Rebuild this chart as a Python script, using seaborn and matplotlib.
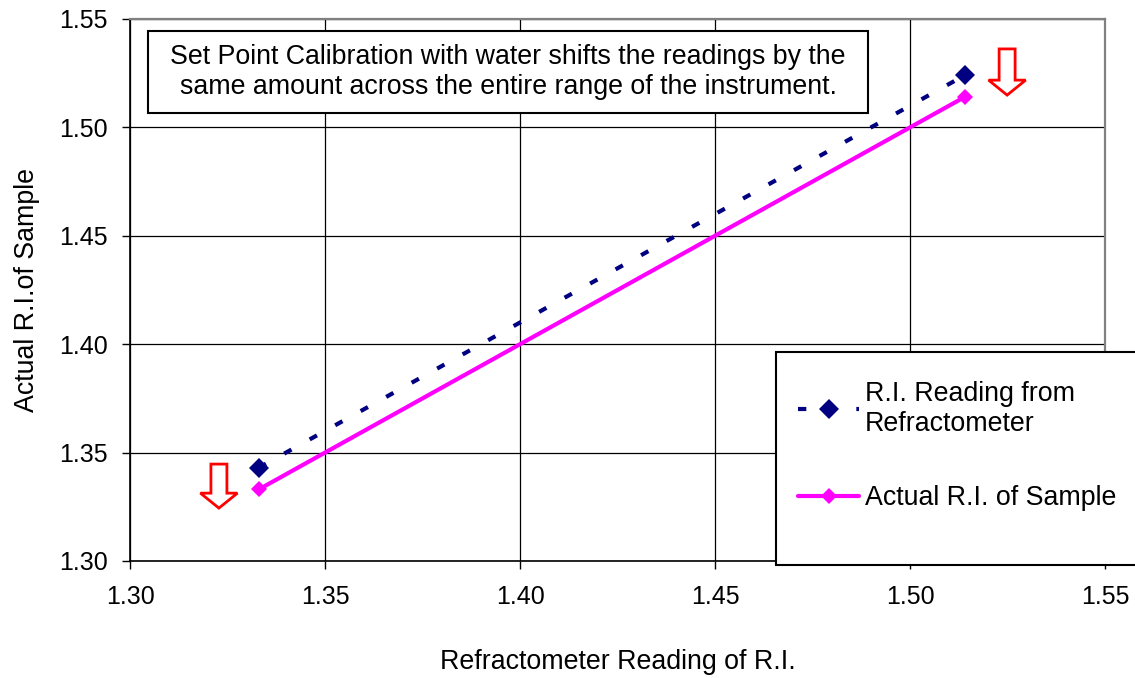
import numpy as np
import pandas as pd
import matplotlib
matplotlib.use("Agg")
import matplotlib.pyplot as plt
import seaborn as sns
from matplotlib.patches import FancyArrow, Rectangle

# ---- data ----
ri_reading_x = [1.333, 1.514]
ri_reading_y = [1.343, 1.524]
actual_x = [1.333, 1.514]
actual_y = [1.333, 1.514]
series_names = ["R.I. Reading from\nRefractometer", "Actual R.I. of Sample"]
x_ticks = [1.30, 1.35, 1.40, 1.45, 1.50, 1.55]
y_ticks = [1.30, 1.35, 1.40, 1.45, 1.50, 1.55]
note = ("Set Point Calibration with water shifts the readings by the\n"
        "same amount across the entire range of the instrument.")
x_label = "Refractometer Reading of R.I."
y_label = "Actual R.I.of Sample"

sns.set_theme(style="white")
plt.rcParams["font.family"] = ["Liberation Sans", "DejaVu Sans"]

FS = 19.3

fig = plt.figure(figsize=(11.35, 6.78), dpi=100)
ax = fig.add_axes([130/1135, 1-561/678, (1105-130)/1135, (561-19)/678])

df1 = pd.DataFrame({"x": ri_reading_x, "y": ri_reading_y})
df2 = pd.DataFrame({"x": actual_x, "y": actual_y})

sns.lineplot(data=df1, x="x", y="y", ax=ax, color="#000080", linewidth=3,
             marker="D", markersize=10, markeredgewidth=0, label=series_names[0],
             zorder=4)
ax.lines[-1].set_dashes([2.0, 5.0])
ax.lines[-1].set_dash_capstyle("butt")
sns.lineplot(data=df2, x="x", y="y", ax=ax, color="#FF00FF", linewidth=3,
             marker="D", markersize=8, markeredgewidth=0, label=series_names[1],
             zorder=4)

ax.set_xlim(x_ticks[0], x_ticks[-1])
ax.set_ylim(y_ticks[0], y_ticks[-1])
ax.set_xticks(x_ticks)
ax.set_yticks(y_ticks)
ax.set_xticklabels([f"{v:.2f}" for v in x_ticks])
ax.set_yticklabels([f"{v:.2f}" for v in y_ticks])
ax.grid(True, color="black", linewidth=0.9)
ax.set_axisbelow(True)
ax.tick_params(axis="both", direction="out", length=6, width=1, color="black",
               labelsize=18, labelcolor="black", bottom=True, left=True)
ax.tick_params(axis="x", pad=11)
ax.tick_params(axis="y", pad=10)
for s in ["left", "bottom"]:
    ax.spines[s].set_color("black")
    ax.spines[s].set_linewidth(1.2)
for s in ["top", "right"]:
    ax.spines[s].set_color("#808080")
    ax.spines[s].set_linewidth(1.6)
ax.set_xlabel(x_label, fontsize=FS, labelpad=29, color="black")
ax.set_ylabel(y_label, fontsize=FS, labelpad=14, color="black")

# annotation box
box = Rectangle((148/1135, 1-113/678), (868-148)/1135, (113-31)/678,
                transform=fig.transFigure, facecolor="white",
                edgecolor="black", linewidth=1.5, zorder=5)
fig.patches.append(box)
fig.text((148 + 868) / 2 / 1135, 1 - 72 / 678, note, ha="center", va="center",
         fontsize=FS, color="black", linespacing=1.2, zorder=6)

# hollow red arrows
for cx, top, tip in [(1.3228, 1.3447, 1.3244), (1.5249, 1.5362, 1.5149)]:
    arr = FancyArrow(cx, top, 0, tip - top, width=0.0041, head_width=0.0095,
                     head_length=0.0069, length_includes_head=True,
                     facecolor="white", edgecolor="red", linewidth=2,
                     clip_on=False, zorder=5)
    ax.add_patch(arr)

# legend
ax.get_legend().remove()
handles, labels = ax.get_legend_handles_labels()
rect = Rectangle((776/1135, 1-565/678), 0.5, (565-352)/678,
                 transform=fig.transFigure, facecolor="white",
                 edgecolor="black", linewidth=1.5, zorder=5)
fig.patches.append(rect)
leg = fig.legend(handles, labels, loc="upper left",
                 bbox_to_anchor=(787/1135, 1-370/678), frameon=False,
                 fontsize=FS, handlelength=2.3, handletextpad=0.2,
                 labelspacing=1.81, borderaxespad=0)
leg.set_zorder(6)
for t in leg.get_texts():
    t.set_color("black")

fig.savefig("out.png", dpi=100)
